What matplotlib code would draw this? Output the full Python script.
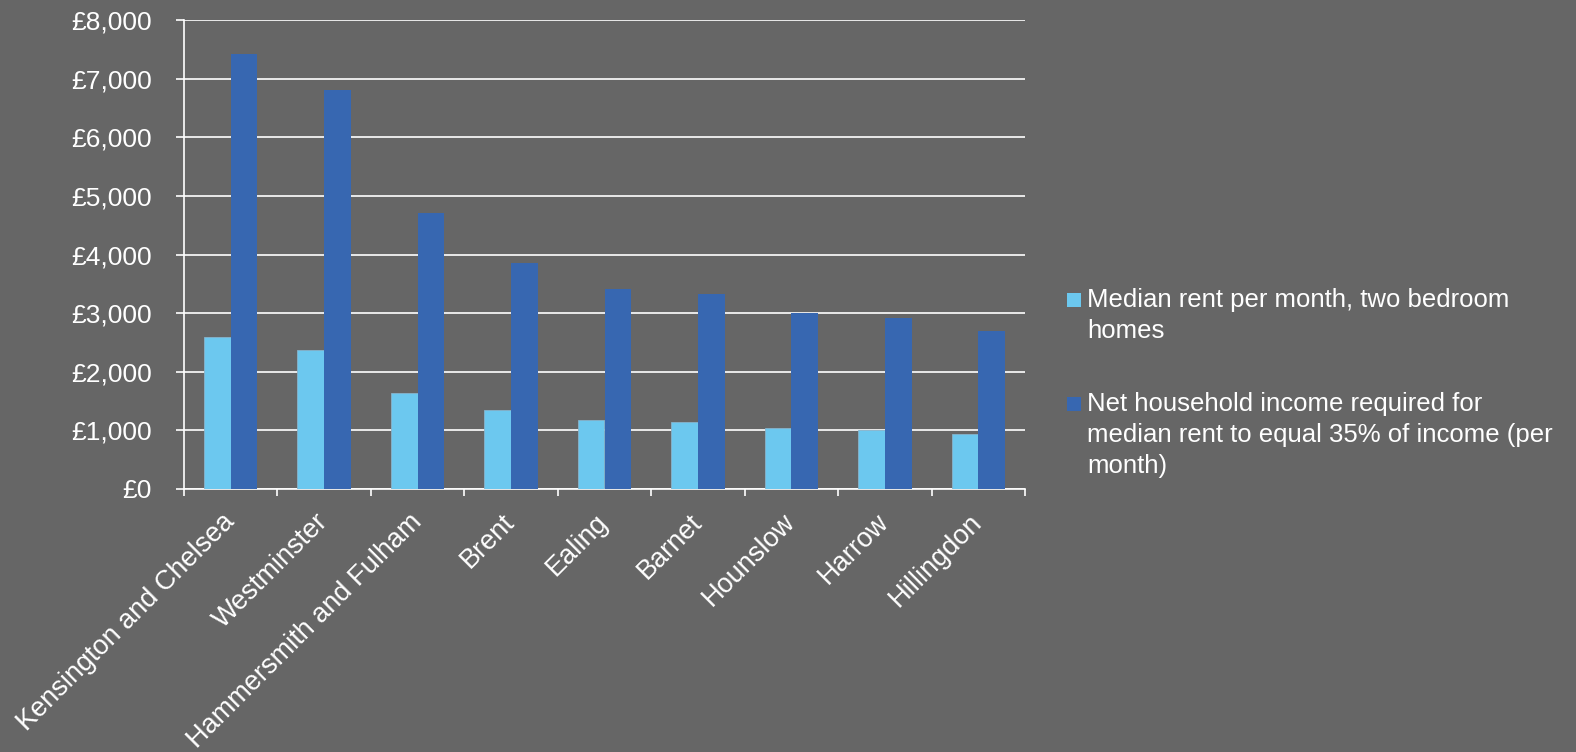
import matplotlib
matplotlib.use('Agg')
import matplotlib.pyplot as plt
from matplotlib.patches import Rectangle
import numpy as np

plt.rcParams['font.family'] = ['Liberation Sans', 'DejaVu Sans']

boroughs = ['Kensington and Chelsea', 'Westminster', 'Hammersmith and Fulham', 'Brent',
            'Ealing', 'Barnet', 'Hounslow', 'Harrow', 'Hillingdon']
median_rent = [2590, 2370, 1630, 1340, 1180, 1150, 1035, 1012, 930]
income_needed = [7420, 6800, 4700, 3860, 3410, 3330, 3000, 2920, 2700]
yticks = [0, 1000, 2000, 3000, 4000, 5000, 6000, 7000, 8000]
series_names = ['Median rent per month, two bedroom\nhomes',
                'Net household income required for\nmedian rent to equal 35% of income (per\nmonth)']

BG = '#666666'
LIGHT = '#6CC8EF'
DARK = '#3767B1'
W, H = 1576, 752

fig = plt.figure(figsize=(W/100, H/100), dpi=100, facecolor=BG)
ax = fig.add_axes([184/W, 1-489/H, (1025-184)/W, (489-20)/H])
ax.set_facecolor(BG)

x = np.arange(len(boroughs))
w = 1/3.5
b1 = ax.bar(x - w/2, median_rent, w, color=LIGHT, edgecolor='#86B3CC', linewidth=0.6, zorder=3)
b2 = ax.bar(x + w/2, income_needed, w, color=DARK, linewidth=0, zorder=3)

ax.set_xlim(-0.5, len(boroughs) - 0.5)
ax.set_ylim(0, 8000)
ax.set_yticks(yticks)
ax.set_yticklabels(['£{:,}'.format(v) for v in yticks])
ax.yaxis.grid(True, color='white', linewidth=1.2, zorder=0)
ax.set_axisbelow(True)

ax.set_xticks(x)
ax.set_xticklabels(boroughs, rotation=45, ha='right', va='center', rotation_mode='anchor')
ax.set_xticks(np.arange(len(boroughs) + 1) - 0.5, minor=True)
ax.tick_params(axis='x', which='major', length=0, pad=21, labelsize=19.5, labelcolor='white')
ax.tick_params(axis='x', which='minor', length=5, width=1.2, color='white', direction='out')
ax.tick_params(axis='y', length=6, width=1.2, color='white', pad=17, labelsize=19, labelcolor='white')

for s in ['top', 'right']:
    ax.spines[s].set_visible(False)
for s in ['left', 'bottom']:
    ax.spines[s].set_color('white')
    ax.spines[s].set_linewidth(1.2)

# legend drawn by hand so the square sits on the first line like in excel
leg_tops = [293, 397]
for name, bars, top in zip(series_names, [b1, b2], leg_tops):
    fig.patches.append(Rectangle((1067/W, 1-(top+14)/H), 14/W, 14/H, transform=fig.transFigure,
                                 color=bars.patches[0].get_facecolor(), linewidth=0))
    for k, line in enumerate(name.split('\n')):
        fig.text(1087/W, 1-(top+14+k*31)/H, line, color='white', fontsize=18.5, va='baseline', ha='left')

fig.savefig('out.png', dpi=100, facecolor=BG)
